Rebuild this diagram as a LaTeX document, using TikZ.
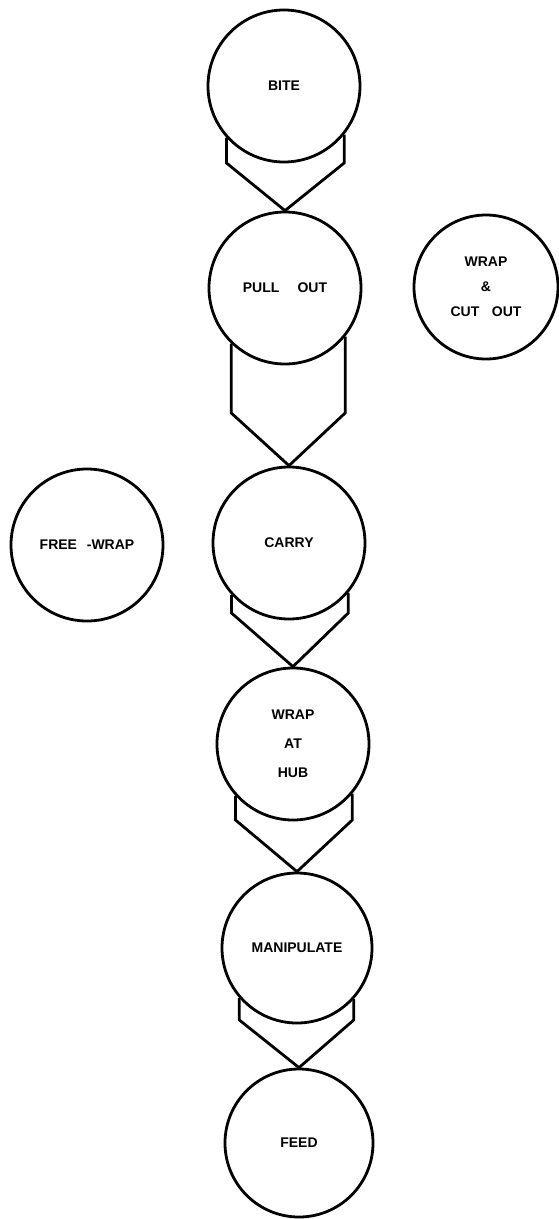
\documentclass[tikz,border=0pt]{standalone}
\usepackage{fontspec}
\setmainfont{Liberation Sans}
\begin{document}
\begin{tikzpicture}[x=1pt,y=-1pt,line width=2.8pt,
  stage/.style={circle,draw,minimum size=#1,inner sep=0pt,align=center,
    font=\bfseries\fontsize{14}{29}\selectfont},
  link/.style={line join=miter}]
\useasboundingbox (0,0) rectangle (559,1219);
% stages
\node[stage=152pt] (bite)  at (284,86)  {BITE};
\node[stage=152pt] (pull)  at (285,288) {PULL\hspace{1.3em}OUT};
\node[stage=144pt] (wcut)  at (486,287) {WRAP\\[-4pt]\&\\[-4pt]CUT\hspace{0.9em}OUT};
\node[stage=152pt] (free)  at (87,545)  {FREE\hspace{0.7em}-WRAP};
\node[stage=152pt] (carry) at (289,543) {CARRY};
\node[stage=152pt] (hub)   at (293,744) {WRAP\\AT\\HUB};
\node[stage=150pt] (manip) at (297,948) {MANIPULATE};
\node[stage=148pt] (feed)  at (299,1143) {FEED};
% bend levels
\coordinate (k1) at (0,163);
\coordinate (k2) at (0,413);
\coordinate (k3) at (0,613);
\coordinate (k4) at (0,820);
\coordinate (k5) at (0,1020);
% connectors
\draw[link] (bite.222) -- (bite.222 |- k1) -- (pull.north) -- (bite.321 |- k1) -- (bite.321);
\draw[link] (pull.226) -- (pull.226 |- k2) -- (carry.north) -- (pull.321 |- k2) -- (pull.321);
\draw[link] (carry.222) -- (carry.222 |- k3) -- (hub.north) -- (carry.320 |- k3) -- (carry.320);
\draw[link] (hub.222) -- (hub.222 |- k4) -- (manip.north) -- (hub.320 |- k4) -- (hub.320);
\draw[link] (manip.221) -- (manip.221 |- k5) -- (feed.north) -- (manip.318 |- k5) -- (manip.318);
\end{tikzpicture}
\end{document}
